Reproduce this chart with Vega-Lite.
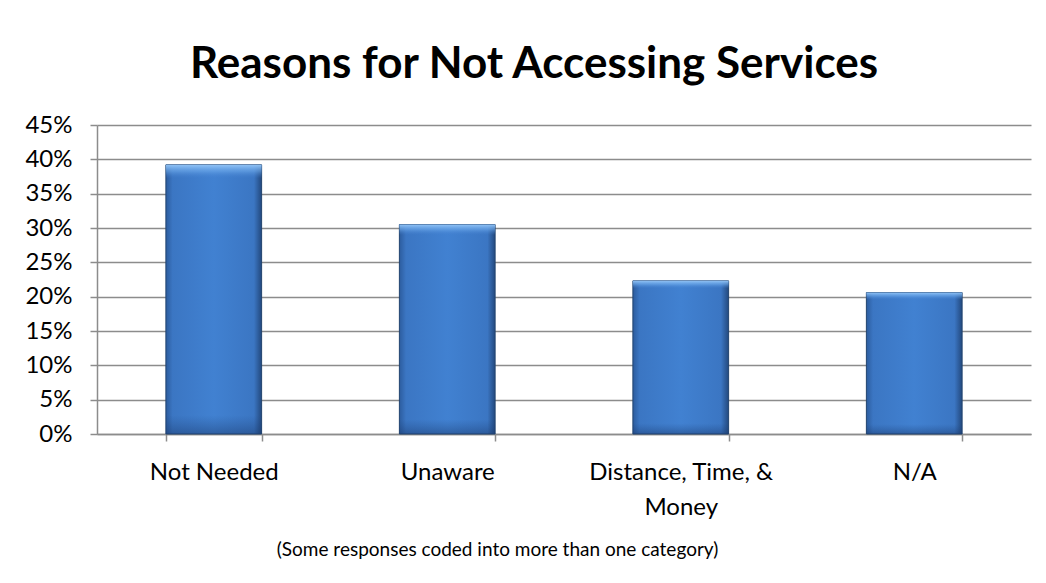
{
  "$schema": "https://vega.github.io/schema/vega-lite/v6.json",
  "width": 934,
  "height": 309,
  "autosize": {"type": "none"},
  "padding": {"left": 97, "top": 125, "right": 15, "bottom": 149},
  "background": "white",
  "title": {
    "text": "Reasons for Not Accessing Services",
    "font": "Lato",
    "fontSize": 44,
    "fontWeight": "bold",
    "color": "#000000",
    "anchor": "middle",
    "baseline": "alphabetic",
    "offset": -9,
    "dx": -30
  },
  "data": {
    "values": [
      {"reason": "Not Needed", "share": 0.392},
      {"reason": "Unaware", "share": 0.305},
      {"reason": "Distance, Time, & Money", "share": 0.223},
      {"reason": "N/A", "share": 0.206}
    ]
  },
  "encoding": {
    "x": {
      "field": "reason",
      "type": "nominal",
      "sort": null,
      "scale": {"paddingInner": 0.59, "paddingOuter": 0.295},
      "axis": {
        "title": "(Some responses coded into more than one category)",
        "titleFont": "Lato",
        "titleFontSize": 19,
        "titleFontWeight": "normal",
        "titleColor": "#000000",
        "titlePadding": 21,
        "titleX": 400,
        "labelAngle": 0,
        "labelFont": "Lato",
        "labelFontSize": 24,
        "labelColor": "#000000",
        "labelPadding": 19,
        "labelLineHeight": 35,
        "labelLimit": 400,
        "labelExpr": "datum.value == 'Distance, Time, & Money' ? ['Distance, Time, &', 'Money'] : datum.label",
        "tickBand": "extent",
        "tickSize": 7,
        "tickColor": "#8c8c8c",
        "tickWidth": 1.5,
        "domainColor": "#8c8c8c",
        "domainWidth": 1.5
      }
    },
    "y": {
      "field": "share",
      "type": "quantitative",
      "scale": {"domain": [0, 0.45], "nice": false},
      "axis": {
        "title": null,
        "values": [0, 0.05, 0.1, 0.15, 0.2, 0.25, 0.3, 0.35, 0.4, 0.45],
        "format": ".0%",
        "labelFont": "Lato",
        "labelFontSize": 24,
        "labelColor": "#000000",
        "labelPadding": 18,
        "tickSize": 7,
        "tickColor": "#8c8c8c",
        "tickWidth": 1.5,
        "domainColor": "#8c8c8c",
        "domainWidth": 1.5,
        "gridColor": "#8c8c8c",
        "gridWidth": 1.5
      }
    }
  },
  "layer": [
    {
      "mark": {
        "type": "bar",
        "stroke": "#22446f",
        "strokeWidth": 1,
        "color": {
          "gradient": "linear",
          "x1": 0, "y1": 0, "x2": 1, "y2": 0,
          "stops": [
            {"offset": 0, "color": "#2c5c9e"},
            {"offset": 0.07, "color": "#3b76c3"},
            {"offset": 0.5, "color": "#4181d1"},
            {"offset": 0.92, "color": "#3b76c3"},
            {"offset": 1, "color": "#23497e"}
          ]
        }
      }
    },
    {
      "mark": {
        "type": "bar",
        "color": {
          "gradient": "linear",
          "x1": 0, "y1": 0, "x2": 0, "y2": 1,
          "stops": [
            {"offset": 0, "color": "rgba(150,200,250,0.95)"},
            {"offset": 0.025, "color": "rgba(110,170,235,0.55)"},
            {"offset": 0.05, "color": "rgba(70,130,210,0)"},
            {"offset": 0.93, "color": "rgba(30,70,130,0)"},
            {"offset": 1, "color": "rgba(25,55,105,0.45)"}
          ]
        }
      }
    }
  ],
  "config": {
    "view": {"stroke": null},
    "axis": {"gridDash": []}
  }
}
